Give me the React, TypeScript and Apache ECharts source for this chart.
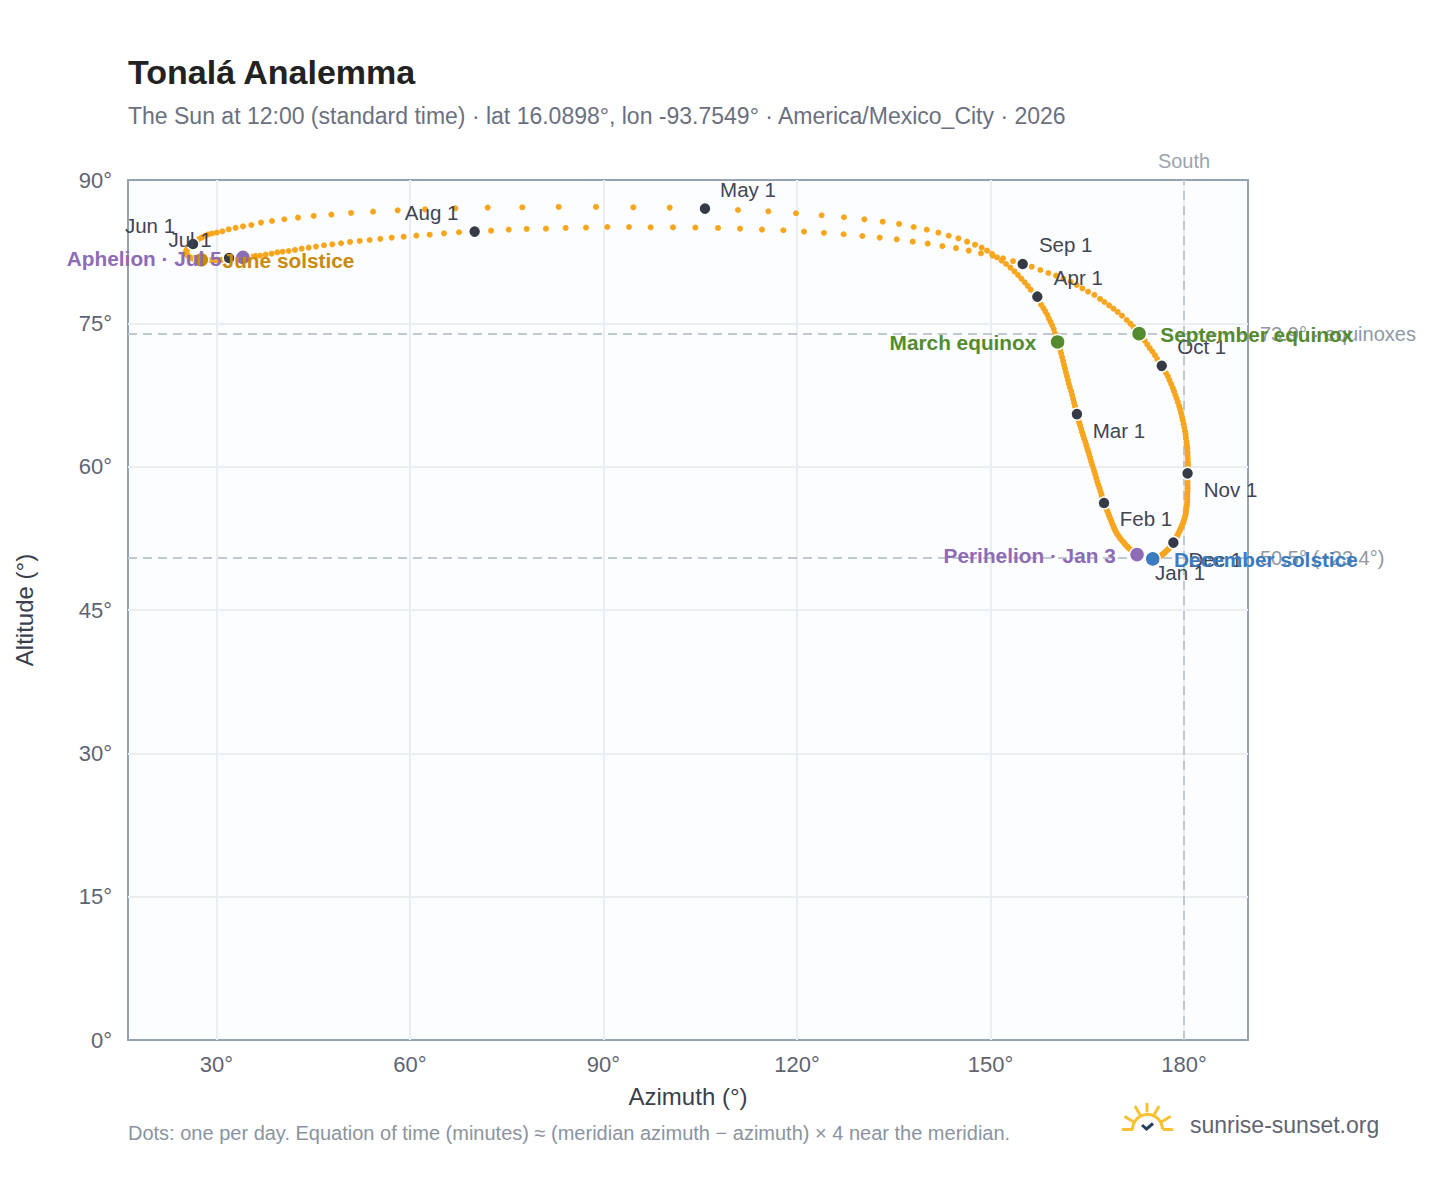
import React, { useEffect, useRef } from "react";
import * as echarts from "echarts";

const FONT = "'Liberation Sans', Arial, sans-serif";

const janAz = [173.05,172.9,172.72,172.5,172.3,172.1,171.9,171.65,171.4,171.2,170.95,170.8,170.6,170.35,170.1,169.9,169.7,169.5,169.35,169.2,169.1,168.95,168.85,168.7,168.55,168.4,168.25,168.1,167.95,167.8,167.7];
const janAlt = [50.65,50.72,50.8,50.9,51.0,51.1,51.2,51.35,51.5,51.65,51.8,51.95,52.1,52.3,52.5,52.7,52.9,53.1,53.3,53.5,53.7,53.9,54.1,54.35,54.6,54.85,55.1,55.35,55.6,55.85,56.0];
const febAz = [167.6,167.45,167.3,167.2,167.05,166.9,166.7,166.55,166.4,166.25,166.1,165.95,165.75,165.6,165.45,165.3,165.15,165.0,164.85,164.7,164.5,164.35,164.2,164.05,163.9,163.75,163.6,163.5];
const febAlt = [56.2,56.5,56.8,57.1,57.4,57.75,58.1,58.45,58.8,59.15,59.5,59.85,60.2,60.55,60.9,61.25,61.6,61.9,62.25,62.6,62.95,63.3,63.6,63.95,64.3,64.6,64.9,65.2];
const marAz = [163.4,163.25,163.1,162.95,162.8,162.65,162.5,162.3,162.15,162.0,161.85,161.7,161.55,161.4,161.25,161.1,160.95,160.8,160.6,160.4,160.2,160.0,159.8,159.55,159.3,159.05,158.8,158.5,158.2,157.85,157.5];
const marAlt = [65.5,65.9,66.3,66.7,67.1,67.5,67.9,68.3,68.65,69.05,69.45,69.85,70.25,70.65,71.05,71.45,71.85,72.25,72.65,73.05,73.5,73.95,74.4,74.8,75.15,75.5,75.9,76.25,76.6,76.95,77.4];
const aprAz = [157.26,156.75,156.23,155.77,155.30,154.78,154.27,153.70,153.08,152.41,151.73,151.01,150.24,149.46,148.63,147.60,146.36,145.02,143.52,141.92,140.11,138.09,135.82,133.28,130.44,127.28,123.82,119.84,115.55,110.85];
const aprAlt = [77.79,78.14,78.52,78.91,79.29,79.67,80.06,80.44,80.83,81.21,81.56,81.91,82.26,82.61,82.92,83.23,83.55,83.90,84.17,84.49,84.80,85.08,85.40,85.64,85.88,86.10,86.31,86.52,86.72,86.86];
const mayAz = [105.73,100.26,94.62,88.84,83.05,77.41,72.04,67.03,62.33,58.09,54.27,50.86,47.81,45.07,42.64,40.52,38.61,36.90,35.40,34.11,32.97,31.89,30.91,30.05,29.3,28.7,28.2,27.75,27.35,27.0,26.65];
const mayAlt = [87.0,87.11,87.14,87.18,87.18,87.14,87.11,87.04,86.93,86.83,86.69,86.55,86.38,86.24,86.06,85.89,85.71,85.54,85.29,85.15,85.0,84.84,84.63,84.5,84.4,84.3,84.15,84.0,83.85,83.65,83.5];
const junAz = [26.36,26.1,25.9,25.75,25.6,25.5,25.4,25.35,25.3,25.3,25.35,25.4,25.5,25.65,25.8,26.0,26.25,26.5,26.8,27.2,27.65,28.05,28.5,28.95,29.4,29.85,30.3,30.75,31.2,31.6];
const junAlt = [83.3,83.2,83.1,83.0,82.9,82.8,82.7,82.6,82.5,82.4,82.3,82.2,82.1,82.0,81.95,81.85,81.8,81.75,81.7,81.65,81.65,81.62,81.62,81.62,81.62,81.62,81.65,81.65,81.7,81.75];
const julAz = [31.95,32.45,33.0,33.55,34.1,34.58,35.30,36.02,36.75,37.63,38.56,39.43,40.26,41.19,42.17,43.21,44.29,45.43,46.67,47.96,49.31,50.70,52.20,53.75,55.40,57.16,59.02,60.99,63.05,65.27,67.60];
const julAlt = [81.84,81.85,81.87,81.88,81.9,81.95,81.98,82.05,82.08,82.19,82.29,82.43,82.5,82.57,82.68,82.82,82.92,83.03,83.17,83.27,83.38,83.52,83.62,83.72,83.83,83.97,84.07,84.18,84.28,84.42,84.53];
const augAz = [70.02,72.56,75.30,78.09,81.08,84.13,87.29,90.59,93.95,97.31,100.77,104.24,107.75,111.16,114.57,117.88,121.08,124.18,127.23,130.13,132.82,135.46,137.94,140.26,142.54,144.65,146.62,148.53,150.34,151.94,153.49];
const augAlt = [84.60,84.70,84.81,84.88,84.91,84.98,85.02,85.08,85.08,85.05,85.05,85.02,84.98,84.91,84.81,84.74,84.60,84.46,84.32,84.14,83.97,83.79,83.55,83.34,83.09,82.88,82.61,82.33,82.08,81.80,81.52];
const sepAz = [154.99,156.39,157.73,158.97,160.16,161.29,162.38,163.36,164.24,165.12,166.10,166.98,167.65,168.38,169.05,169.72,170.39,171.11,171.68,172.15,172.61,173.03,173.5,173.9,174.3,174.7,175.1,175.5,175.85,176.25];
const sepAlt = [81.21,80.93,80.58,80.27,79.99,79.67,79.36,79.01,78.66,78.31,77.97,77.55,77.23,76.88,76.54,76.19,75.80,75.35,74.97,74.62,74.27,73.92,73.55,73.2,72.8,72.4,72.05,71.65,71.25,70.9];
const octAz = [176.55,176.9,177.2,177.5,177.75,178.0,178.25,178.45,178.65,178.85,179.05,179.25,179.4,179.55,179.7,179.8,179.95,180.05,180.15,180.25,180.3,180.4,180.45,180.5,180.55,180.55,180.6,180.6,180.6,180.6,180.6];
const octAlt = [70.55,70.2,69.8,69.45,69.05,68.65,68.25,67.9,67.5,67.15,66.75,66.35,66.0,65.6,65.2,64.85,64.45,64.1,63.7,63.35,63.0,62.6,62.25,61.9,61.5,61.15,60.8,60.45,60.15,59.85,59.55];
const novAz = [180.55,180.55,180.55,180.55,180.55,180.55,180.55,180.5,180.5,180.5,180.5,180.45,180.4,180.35,180.3,180.25,180.15,180.05,179.95,179.85,179.7,179.55,179.45,179.3,179.15,179.0,178.9,178.75,178.6,178.45];
const novAlt = [59.3,59.0,58.7,58.35,58.05,57.75,57.45,57.15,56.85,56.6,56.3,56.05,55.8,55.5,55.25,55.0,54.75,54.55,54.3,54.1,53.85,53.65,53.45,53.25,53.05,52.85,52.7,52.5,52.35,52.2];
const decAz = [178.35,178.2,178.05,177.9,177.75,177.6,177.45,177.3,177.15,177.0,176.85,176.7,176.55,176.4,176.25,176.1,175.95,175.75,175.55,175.35,175.15,174.95,174.75,174.6,174.4,174.25,174.05,173.9,173.7,173.55,173.4];
const decAlt = [52.05,51.9,51.8,51.65,51.55,51.4,51.3,51.2,51.1,51.0,50.9,50.85,50.75,50.7,50.6,50.55,50.5,50.45,50.4,50.38,50.35,50.35,50.35,50.38,50.4,50.42,50.45,50.48,50.5,50.55,50.58];

const monthNames = ["Jan","Feb","Mar","Apr","May","Jun","Jul","Aug","Sep","Oct","Nov","Dec"];
const monthAz = [janAz,febAz,marAz,aprAz,mayAz,junAz,julAz,augAz,sepAz,octAz,novAz,decAz];
const monthAlt = [janAlt,febAlt,marAlt,aprAlt,mayAlt,junAlt,julAlt,augAlt,sepAlt,octAlt,novAlt,decAlt];
const labelOffsets = [[41,16],[42,16],[42,16],[41,-19],[43,-19],[-43,-19],[-39,-18],[-43,-19],[43,-19],[40,-19],[43,16],[42,17]];

const xTicks = [30,60,90,120,150,180];
const equinoxAlt = 73.9;
const decSolsticeAlt = 50.44;
const southAz = 180;

const specials = [
  { name: "March equinox", m: 2, d: 20, color: "#558B2F", side: "left" },
  { name: "September equinox", m: 8, d: 22, color: "#558B2F", side: "right" },
  { name: "December solstice", m: 11, d: 21, color: "#3B7CC0", side: "right" },
  { name: "June solstice", m: 5, d: 21, color: "#CA8A0C", side: "right" },
  { name: "Perihelion · Jan 3", m: 0, d: 3, color: "#8E6BB5", side: "left" },
  { name: "Aphelion · Jul 5", m: 6, d: 5, color: "#8E6BB5", side: "left" },
];

const title = "Tonalá Analemma";
const subtitle = "The Sun at 12:00 (standard time) · lat 16.0898°, lon -93.7549° · America/Mexico_City · 2026";
const footnote = "Dots: one per day. Equation of time (minutes) ≈ (meridian azimuth − azimuth) × 4 near the meridian.";
const brand = "sunrise-sunset.org";

export default function App() {
  const ref = useRef<HTMLDivElement>(null);
  useEffect(() => {
    document.body.style.margin = "0";
    const chart = echarts.init(ref.current!, undefined, { renderer: "svg" });
    const daily: number[][] = [];
    monthAz.forEach((arr, m) => arr.forEach((a, i) => daily.push([a, monthAlt[m][i]])));
    const monthMarks = monthNames.map((n, m) => ({
      value: [monthAz[m][0], monthAlt[m][0]],
      label: { formatter: n + " 1", offset: labelOffsets[m] },
    }));
    const specialMarks = specials.map((s) => ({
      value: [monthAz[s.m][s.d - 1], monthAlt[s.m][s.d - 1]],
      itemStyle: { color: s.color, borderColor: "#fff", borderWidth: 1.5, opacity: 1 },
      label: {
        formatter: s.name,
        color: s.color,
        position: s.side as any,
        distance: 13,
        offset: [0, 1],
      },
    }));
    const gold = "#F7C12F";
    const ln = (x1: number, y1: number, x2: number, y2: number, stroke = gold) => ({
      type: "line", shape: { x1, y1, x2, y2 }, style: { stroke, lineWidth: 3, lineCap: "round" }, silent: true,
    });
    chart.setOption({
      animation: false,
      backgroundColor: "#ffffff",
      textStyle: { fontFamily: FONT },
      grid: { left: 128, top: 180, width: 1120, height: 860, show: true, backgroundColor: "#FBFDFF", borderColor: "#94A3B3", borderWidth: 2 },
      xAxis: {
        type: "value", min: 16.28, max: 189.92, name: "Azimuth (°)", nameLocation: "middle", nameGap: 44,
        nameTextStyle: { fontSize: 24, color: "#3A3F4B", fontFamily: FONT },
        axisLine: { show: false },
        axisTick: { show: false, customValues: xTicks },
        axisLabel: { customValues: xTicks, formatter: "{value}°", fontSize: 22, color: "#5F6472", margin: 13, fontFamily: FONT },
        splitLine: { show: true, lineStyle: { color: "#E9EEF3", width: 2 } },
      },
      yAxis: {
        type: "value", min: 0, max: 90, interval: 15, name: "Altitude (°)", nameLocation: "middle", nameGap: 92, nameRotate: 90,
        nameTextStyle: { fontSize: 24, color: "#3A3F4B", fontFamily: FONT },
        axisLine: { show: false }, axisTick: { show: false },
        axisLabel: { formatter: "{value}°", fontSize: 22, color: "#5F6472", margin: 16, fontFamily: FONT },
        splitLine: { show: true, showMinLine: false, showMaxLine: false, lineStyle: { color: "#E9EEF3", width: 2 } },
      },
      series: [
        {
          type: "scatter", name: "Daily", data: daily, symbolSize: 6, z: 3,
          itemStyle: { color: "#F9A61F", opacity: 1 },
          markLine: {
            silent: true, symbol: "none", animation: false, z: 2,
            lineStyle: { color: "#BFC8D3", type: [9, 6], width: 2 },
            data: [
              { yAxis: equinoxAlt, label: { formatter: "73.9° · equinoxes", position: "end", distance: 12, fontSize: 20, color: "#8F98A3" } },
              { yAxis: decSolsticeAlt, label: { formatter: "50.5° (−23.4°)", position: "end", distance: 12, fontSize: 20, color: "#8F98A3" } },
              { xAxis: southAz, label: { formatter: "South", position: "end", distance: 9, fontSize: 20, color: "#9AA3AF" } },
            ],
          },
        },
        {
          type: "scatter", name: "Months", data: monthMarks, symbolSize: 12, z: 5,
          itemStyle: { color: "#343A46", borderColor: "#fff", borderWidth: 1.5, opacity: 1 },
          label: { show: true, position: "inside", align: "center", verticalAlign: "middle", fontSize: 20.5, color: "#3F4552", fontFamily: FONT },
        },
        {
          type: "scatter", name: "Events", data: specialMarks, symbolSize: 15, z: 6,
          label: { show: true, fontSize: 20.8, fontWeight: "bold", fontFamily: FONT },
        },
      ],
      graphic: [
        { type: "text", left: 128, top: 55, style: { text: title, fontSize: 34, fontWeight: "bold", fill: "#222222", fontFamily: FONT } },
        { type: "text", left: 128, top: 104, style: { text: subtitle, fontSize: 23, fill: "#6B7080", fontFamily: FONT } },
        { type: "text", left: 128, top: 1123, style: { text: footnote, fontSize: 20, fill: "#8B93A0", fontFamily: FONT } },
        { type: "text", left: 1190, top: 1113, style: { text: brand, fontSize: 23, fill: "#5F6472", fontFamily: FONT } },
        ln(1123, 1129.5, 1132, 1129.5), ln(1164, 1129.5, 1172, 1129.5),
        { type: "arc", shape: { cx: 1147.5, cy: 1129.5, r: 15, startAngle: Math.PI, endAngle: 2 * Math.PI }, style: { stroke: gold, lineWidth: 3, fill: "none" }, silent: true },
        ln(1147, 1104, 1147, 1111), ln(1135.5, 1107, 1139.5, 1114), ln(1158.5, 1107, 1154.5, 1114),
        ln(1125.5, 1117, 1133, 1121.5), ln(1169.5, 1117, 1162, 1121.5),
        { type: "polyline", shape: { points: [[1142, 1125], [1146.5, 1129], [1153, 1123.5]] }, style: { stroke: "#24405F", lineWidth: 3, fill: "none" }, silent: true },
      ],
    });
    return () => chart.dispose();
  }, []);
  return <div ref={ref} style={{ width: 1448, height: 1188 }} />;
}
